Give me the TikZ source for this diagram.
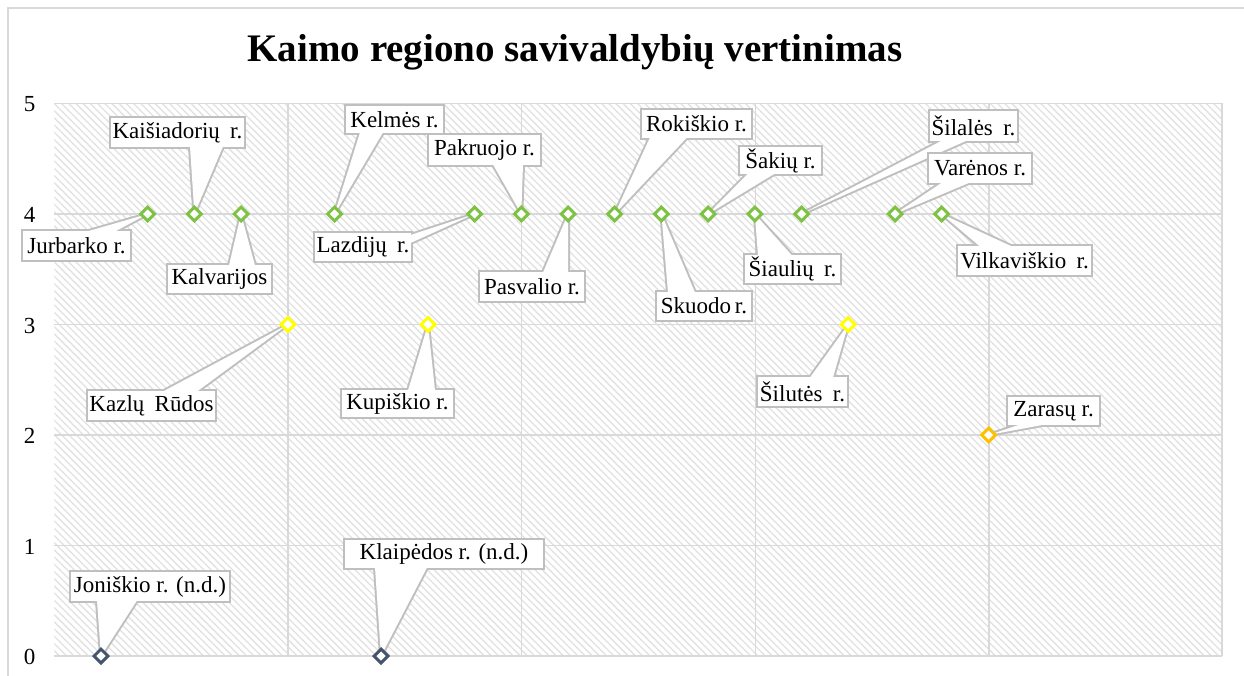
\documentclass[tikz,border=0pt]{standalone}
\usepackage{fontspec}
\setmainfont{Liberation Serif}
\usetikzlibrary{shapes.geometric}
\definecolor{gridc}{HTML}{D9D9D9}
\definecolor{hatchc}{HTML}{E2E2E2}
\definecolor{callc}{HTML}{BFBFBF}
\definecolor{mgreen}{HTML}{7DC242}
\definecolor{myellow}{HTML}{FFFF00}
\definecolor{morange}{HTML}{FFC000}
\definecolor{mslate}{HTML}{44546A}
\newcommand\labfont{\fontsize{23}{27}\selectfont}
\newcommand\wsp{\hspace{0.45em}}
\newcommand\mycallout[8]{%
  \draw[wedgeline] #6 -- (#8) -- #7;
  \node[lab, minimum width=#3, minimum height=#4] (#1) at #2 {#5};
  \fill[white] #6 -- (#8) -- #7 -- cycle;
}
\tikzset{
  wedgeline/.style={draw=callc, line width=4pt, line join=round, line cap=round},
  lab/.style={draw=callc, line width=2pt, fill=white, font=\labfont, inner sep=0pt},
  mk/.style={shape=diamond, draw=#1, line width=3pt, fill=white, minimum width=15, minimum height=15, inner sep=0pt},
  gridline/.style={draw=gridc, line width=1.5pt},
  ylab/.style={font=\labfont, inner sep=0pt},
}
\begin{document}
\begin{tikzpicture}[x=1pt,y=-1pt]
\useasboundingbox (0,0) rectangle (1244,676);
\fill[white] (0,0) rectangle (1244,676);
% outer chart border
\draw[draw=gridc, line width=2pt] (8,676) -- (8,8) -- (1244,8);
% plot area hatch
\begin{scope}
  \clip (54.3,103.5) rectangle (1222,656);
  \foreach \k in {-80,...,165} {
    \draw[hatchc, line width=1.3pt] ({54.3+\k*7.2},103.5) -- ({54.3+\k*7.2+552.5},656);
  }
\end{scope}
% gridlines
\foreach \yy in {103.5,214,324.5,435,545.5,656} {
  \draw[gridline] (54.3,\yy) -- (1222,\yy);
}
\foreach \xx in {288,521.7,755.4,989,1222} {
  \draw[gridline] (\xx,103.5) -- (\xx,656);
}
% y labels
\node[ylab] (y5) at (29.5,104.5) {5};
\node[ylab] (y4) at (29.5,215) {4};
\node[ylab] (y3) at (29.5,325.5) {3};
\node[ylab] (y2) at (29.5,436) {2};
\node[ylab] (y1) at (29.5,546.5) {1};
\node[ylab] (y0) at (29.5,657) {0};
% title
\node[anchor=base, inner sep=0pt] (title) at (575,62) {\fontsize{39}{44}\selectfont\bfseries Kaimo regiono savivaldybių vertinimas};
% data point coordinates
\coordinate (pjur) at (147.7,214);
\coordinate (pkai) at (194.4,214);
\coordinate (pkal) at (241,214);
\coordinate (pkel) at (334.5,214);
\coordinate (plaz) at (474.6,214);
\coordinate (ppak) at (521.3,214);
\coordinate (ppas) at (568,214);
\coordinate (prok) at (614.7,214);
\coordinate (psku) at (661.4,214);
\coordinate (psak) at (708.1,214);
\coordinate (psia) at (754.8,214);
\coordinate (psil) at (801.5,214);
\coordinate (pvar) at (895,214);
\coordinate (pvil) at (941.6,214);
\coordinate (pkaz) at (287.8,324.5);
\coordinate (pkup) at (428,324.5);
\coordinate (pslt) at (848.2,324.5);
\coordinate (pzar) at (988.5,435);
\coordinate (pjon) at (101,656);
\coordinate (pkla) at (381,656);
% callouts
\mycallout{jur}{(76.5,245.5)}{109}{31}{Jurbarko r.}{(87,231.5)}{(115,231.5)}{pjur}
\mycallout{kai}{(177.5,132.5)}{135}{31}{Kaišiadorių\wsp r.}{(190,146.5)}{(223,146.5)}{pkai}
\mycallout{kal}{(219.5,279)}{105}{30}{Kalvarijos}{(229,265.5)}{(255,265.5)}{pkal}
\mycallout{kel}{(394.5,119.5)}{99}{29}{Kelmės r.}{(360,132.5)}{(383,132.5)}{pkel}
\mycallout{laz}{(363,247)}{98}{30}{Lazdijų\wsp r.}{(410.5,235)}{(410.5,243)}{plaz}
\mycallout{pak}{(484.5,150)}{113}{32}{Pakruojo r.}{(493,164.5)}{(523,164.5)}{ppak}
\mycallout{pas}{(532,286.5)}{106}{31}{Pasvalio r.}{(543,272.5)}{(568,272.5)}{ppas}
\mycallout{rok}{(696.5,124)}{111}{30}{Rokiškio r.}{(650,137.5)}{(687,137.5)}{prok}
\mycallout{sku}{(704,306)}{96}{30}{Skuodo\,r.}{(668,292.5)}{(695,292.5)}{psku}
\mycallout{sak}{(780.5,160.5)}{83}{29}{Šakių r.}{(748,173.5)}{(775,173.5)}{psak}
\mycallout{sia}{(792.5,269)}{97}{30}{Šiaulių\wsp r.}{(758,255.5)}{(792,255.5)}{psia}
\mycallout{sil}{(973.5,126)}{89}{32}{Šilalės\wsp r.}{(942,140.5)}{(967,140.5)}{psil}
\mycallout{var}{(980,168.5)}{104}{31}{Varėnos r.}{(942,182.5)}{(970,182.5)}{pvar}
\mycallout{vil}{(1024.5,260.5)}{135}{31}{Vilkaviškio\wsp r.}{(980,246.5)}{(1012,246.5)}{pvil}
\mycallout{kaz}{(151.5,405.5)}{129}{31}{Kazlų\wsp Rūdos}{(163,391.5)}{(197,391.5)}{pkaz}
\mycallout{kup}{(397.5,403.5)}{113}{29}{Kupiškio r.}{(408,390.5)}{(435,390.5)}{pkup}
\mycallout{slt}{(802.5,391.5)}{91}{31}{Šilutės\wsp r.}{(810,377.5)}{(833,377.5)}{pslt}
\mycallout{zar}{(1053.5,411)}{93}{30}{Zarasų r.}{(1020,424.5)}{(1045,424.5)}{pzar}
\mycallout{jon}{(150,586.5)}{160}{31}{Joniškio r. (n.d.)}{(97,600.5)}{(137,600.5)}{pjon}
\mycallout{kla}{(444,554)}{200}{30}{Klaipėdos r. (n.d.)}{(375,567.5)}{(427,567.5)}{pkla}
% markers
\foreach \p in {jur,kai,kal,kel,laz,pak,pas,rok,sku,sak,sia,sil,var,vil} {
  \node[mk=mgreen] (m\p) at (p\p) {};
}
\foreach \p in {kaz,kup,slt} {
  \node[mk=myellow] (m\p) at (p\p) {};
}
\node[mk=morange] (mzar) at (pzar) {};
\node[mk=mslate] (mjon) at (pjon) {};
\node[mk=mslate] (mkla) at (pkla) {};
\end{tikzpicture}
\end{document}
